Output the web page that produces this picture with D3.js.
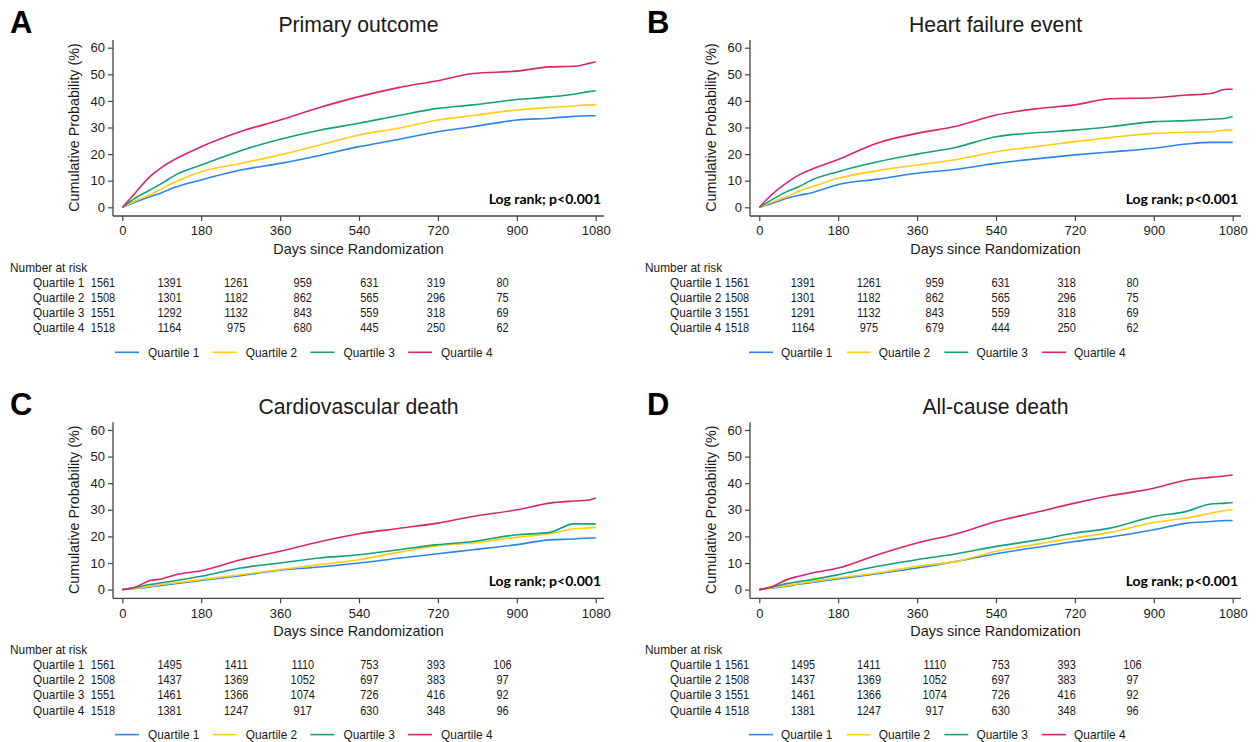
<!DOCTYPE html>
<html>
<head>
<meta charset="utf-8">
<script src="https://cdn.jsdelivr.net/npm/d3@7"></script>
<style>
  body { margin: 0; background: #fff; }
  text { font-family: "Liberation Sans", Arial, sans-serif; fill: #1a1a1a; }
</style>
</head>
<body>
<div id="chart"></div>
<script>
(function () {
    // time points (days) at which the curves were read
    const days = [0, 30, 63, 90, 120, 180, 270, 360, 450, 540, 630, 720, 800, 900, 975, 1030, 1065, 1080];

    // A - primary outcome
    const primaryQ1 = [0, 2, 4, 5.5, 7.5, 10.3, 14, 16.5, 19.5, 22.8, 25.5, 28.4, 30.3, 32.8, 33.5, 34.2, 34.4, 34.4];
    const primaryQ2 = [0, 2.5, 4.6, 7, 9.5, 13.4, 16.5, 19.7, 23.4, 27.2, 29.7, 32.8, 34.5, 36.6, 37.5, 38.1, 38.5, 38.5];
    const primaryQ3 = [0, 3.5, 6.5, 9, 12, 15.9, 21.3, 25.6, 29, 31.6, 34.5, 37.2, 38.5, 40.5, 41.5, 42.5, 43.5, 43.8];
    const primaryQ4 = [0, 5.5, 11.5, 15, 18, 22.8, 28.5, 32.8, 37.5, 41.6, 45, 47.6, 50.3, 51.2, 52.8, 53, 54.1, 54.7];

    // B - heart failure event
    const hfQ1 = [0, 1.5, 3.4, 4.5, 5.5, 8.6, 10.6, 12.8, 14.3, 16.5, 18.2, 19.7, 20.8, 22.2, 23.8, 24.4, 24.4, 24.4];
    const hfQ2 = [0, 2, 4, 6, 7.7, 10.9, 13.8, 15.9, 18, 20.9, 22.8, 24.7, 26.2, 27.8, 28.2, 28.4, 29, 29];
    const hfQ3 = [0, 3, 5.9, 7.7, 10.3, 13.4, 17.1, 20, 22.6, 26.5, 28, 29, 30.3, 32.2, 32.6, 33.1, 33.5, 34.1];
    const hfQ4 = [0, 5, 9.3, 12.1, 14.3, 18, 24.2, 27.8, 30.5, 34.7, 37, 38.5, 40.8, 41.2, 42.2, 42.8, 44.4, 44.4];

    // C - cardiovascular death
    const cvQ1 = [0, 0.4, 1, 1.6, 2.2, 3.4, 5.25, 7.25, 8.5, 10, 11.8, 13.5, 15, 16.9, 18.7, 19, 19.4, 19.4];
    const cvQ2 = [0, 0.5, 1.25, 1.9, 2.5, 3.75, 5.6, 7.5, 9.4, 11.25, 14, 16.5, 17.5, 19.7, 21, 22.9, 23.2, 23.4];
    const cvQ3 = [0, 0.8, 1.9, 2.6, 3.3, 5, 8.1, 10, 11.9, 13.1, 15, 16.9, 18.1, 20.6, 21.5, 24.7, 24.7, 24.7];
    const cvQ4 = [0, 1, 3.4, 4, 5.5, 7.1, 11.2, 14.4, 18, 21, 23, 25, 27.5, 30, 32.5, 33.3, 33.7, 34.4];

    // D - all-cause death
    const acQ1 = [0, 0.6, 1.25, 2, 2.7, 4, 6, 8.1, 10.6, 13.5, 15.8, 18.1, 19.75, 22.5, 25, 25.6, 26, 26];
    const acQ2 = [0, 0.7, 1.5, 2.2, 3, 4.4, 6.25, 8.75, 10.6, 14.4, 17, 19.4, 21.5, 25.2, 26.9, 28.7, 29.8, 30];
    const acQ3 = [0, 1, 2.25, 3, 3.75, 5.6, 8.75, 11.25, 13.5, 16.25, 18.5, 21.25, 23.1, 27.5, 29.4, 32.2, 32.5, 32.75];
    const acQ4 = [0, 1.2, 3.75, 5, 6.25, 8.1, 13.1, 17.5, 21, 25.6, 29, 32.5, 35.25, 38.1, 41.2, 42.2, 42.8, 43.1];

    // number at risk
    const riskTimes = [0, 180, 360, 540, 720, 900, 1080];
    const riskPrimary = [
        [1561, 1391, 1261, 959, 631, 319, 80],
        [1508, 1301, 1182, 862, 565, 296, 75],
        [1551, 1292, 1132, 843, 559, 318, 69],
        [1518, 1164, 975, 680, 445, 250, 62]];
    const riskHF = [
        [1561, 1391, 1261, 959, 631, 318, 80],
        [1508, 1301, 1182, 862, 565, 296, 75],
        [1551, 1291, 1132, 843, 559, 318, 69],
        [1518, 1164, 975, 679, 444, 250, 62]];
    const riskDeath = [
        [1561, 1495, 1411, 1110, 753, 393, 106],
        [1508, 1437, 1369, 1052, 697, 383, 97],
        [1551, 1461, 1366, 1074, 726, 416, 92],
        [1518, 1381, 1247, 917, 630, 348, 96]];

    const quartiles = ["Quartile 1", "Quartile 2", "Quartile 3", "Quartile 4"];
    const colors = ["#2a86e8", "#ffcc1a", "#14a07a", "#d8266a"];
    const yTicks = [0, 10, 20, 30, 40, 50, 60];

    const panels = [
        { letter: "A", title: "Primary outcome", series: [primaryQ1, primaryQ2, primaryQ3, primaryQ4], risk: riskPrimary },
        { letter: "B", title: "Heart failure event", series: [hfQ1, hfQ2, hfQ3, hfQ4], risk: riskHF },
        { letter: "C", title: "Cardiovascular death", series: [cvQ1, cvQ2, cvQ3, cvQ4], risk: riskDeath },
        { letter: "D", title: "All-cause death", series: [acQ1, acQ2, acQ3, acQ4], risk: riskDeath }
    ];

    const width = 1258, height = 742;
    const colOffset = 637, rowOffset = 382.3;
    const axisX = 113, axisY = 216, axisTop = 40, axisRight = 604;
    const smallFont = 13.2, squeeze = 0.9, numSqueeze = 0.83;   // table text is condensed

    const svg = d3.select('#chart').append('svg')
        .attr('width', width)
        .attr('height', height);

    svg.append('rect').attr('width', width).attr('height', height).attr('fill', '#fff');

    const x = d3.scaleLinear().domain([0, 1080]).range([122.3, 595.7]);
    const y = d3.scaleLinear().domain([0, 60]).range([207.3, 47.7]);

    // small condensed text used in the risk table and legend
    function smallText(g, tx, ty, str, anchor, sq) {
        return g.append('text')
            .attr('transform', `translate(${tx},${ty}) scale(${sq || squeeze},1)`)
            .attr('text-anchor', anchor || 'start')
            .attr('font-size', smallFont)
            .text(str);
    }

    panels.forEach(function (p, i) {
        const right = i % 2 === 1;
        const g = svg.append('g')
            .attr('transform', `translate(${right ? colOffset : 0},${i > 1 ? rowOffset : 0})`);

        // panel letter and title
        g.append('text')
            .attr('x', 10)
            .attr('y', 33)
            .attr('font-size', 31)
            .attr('font-weight', 'bold')
            .style('fill', '#000')
            .text(p.letter);

        g.append('text')
            .attr('x', 358.5)
            .attr('y', 32)
            .attr('text-anchor', 'middle')
            .attr('font-size', 21.2)
            .text(p.title);

        // axes
        const yAxis = d3.axisLeft(y).tickValues(yTicks).tickSize(5).tickPadding(3);
        const xAxis = d3.axisBottom(x).tickValues(riskTimes).tickSize(5).tickPadding(5)
            .tickFormat(d3.format('d'));

        const ya = g.append('g').attr('transform', `translate(${axisX},0)`).call(yAxis);
        const xa = g.append('g').attr('transform', `translate(0,${axisY})`).call(xAxis);
        [ya, xa].forEach(function (a) {
            a.select('.domain').remove();
            a.selectAll('line').attr('stroke', '#444').attr('stroke-width', 1.2);
            a.selectAll('text').attr('font-size', 13)
                .attr('font-family', '"Liberation Sans", Arial, sans-serif')
                .style('fill', '#1a1a1a');
        });

        g.append('line')
            .attr('x1', axisX).attr('x2', axisX)
            .attr('y1', axisTop).attr('y2', axisY)
            .attr('stroke', '#444').attr('stroke-width', 1.3);
        g.append('line')
            .attr('x1', axisX).attr('x2', axisRight)
            .attr('y1', axisY).attr('y2', axisY)
            .attr('stroke', '#444').attr('stroke-width', 1.3);

        g.append('text')
            .attr('transform', 'translate(79,127.5) rotate(-90)')
            .attr('text-anchor', 'middle')
            .attr('font-size', 14.3)
            .text('Cumulative Probability (%)');

        g.append('text')
            .attr('x', 358.5)
            .attr('y', 254)
            .attr('text-anchor', 'middle')
            .attr('font-size', 14.4)
            .text('Days since Randomization');

        g.append('text')
            .attr('x', 601)
            .attr('y', 204)
            .attr('text-anchor', 'end')
            .attr('font-size', 14)
            .attr('font-weight', 'bold')
            .style('font-family', 'Lato, "Open Sans", sans-serif')
            .style('fill', '#000')
            .text('Log rank; p<0.001');

        // curves
        const line = d3.line()
            .x(function (d, k) { return x(days[k]); })
            .y(function (d) { return y(d); })
            .curve(d3.curveMonotoneX);

        g.selectAll('.curve').data(p.series)
            .enter().append('path')
            .attr('class', 'curve')
            .attr('fill', 'none')
            .attr('stroke', function (d, k) { return colors[k]; })
            .attr('stroke-width', 1.6)
            .attr('d', line);

        // number at risk table
        const col = d3.scalePoint().domain(riskTimes).range(right ? [100, 495.5] : [103, 502.5]);
        const rowY = [286.5, 301.8, 317, 332.3];

        smallText(g, right ? 8 : 10, 271.5, 'Number at risk');

        p.risk.forEach(function (row, r) {
            smallText(g, 33, rowY[r], quartiles[r]);
            row.forEach(function (v, k) {
                smallText(g, col(riskTimes[k]), rowY[r], v, 'middle', numSqueeze);
            });
        });

        // legend
        const legStart = right ? 112 : 115;
        const legStep = 97.7;
        quartiles.forEach(function (q, k) {
            const lx = legStart + k * legStep;
            g.append('line')
                .attr('x1', lx).attr('x2', lx + 24)
                .attr('y1', 352.3).attr('y2', 352.3)
                .attr('stroke', colors[k])
                .attr('stroke-width', 1.6);
            smallText(g, lx + (right ? 32 : 33), 357, q);
        });
    });
})();
</script>
</body>
</html>
